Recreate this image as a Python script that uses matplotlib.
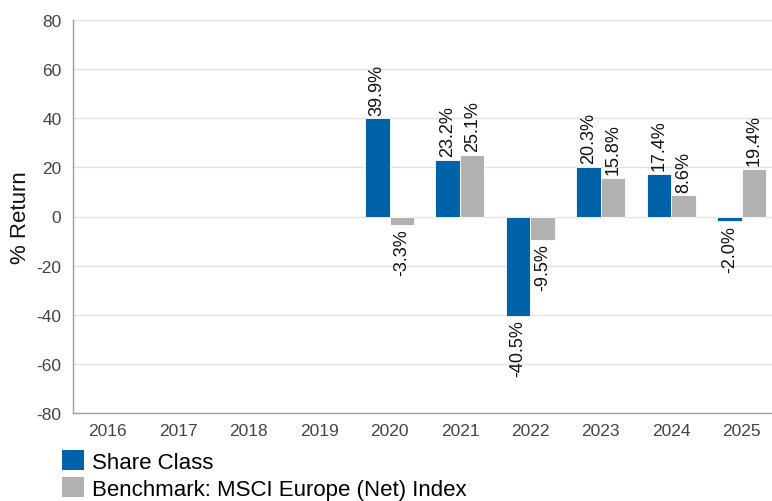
import matplotlib
matplotlib.use("Agg")
import matplotlib.pyplot as plt
from matplotlib.patches import Patch
import numpy as np

plt.rcParams['font.family'] = ['Liberation Sans', 'DejaVu Sans']
plt.rcParams['axes.unicode_minus'] = False

years = ["2016", "2017", "2018", "2019", "2020", "2021", "2022", "2023", "2024", "2025"]
share_class = [None, None, None, None, 39.9, 23.2, -40.5, 20.3, 17.4, -2.0]
benchmark = [None, None, None, None, -3.3, 25.1, -9.5, 15.8, 8.6, 19.4]
series_names = ["Share Class", "Benchmark: MSCI Europe (Net) Index"]
colors = ["#0062A8", "#B1B1B1"]

fig = plt.figure(figsize=(7.72, 5.02), dpi=100)
ax = fig.add_axes([72.5/772, (502-414)/502, (777-72.5)/772, (414-21)/502])

x = np.arange(len(years))
w = 0.348
for vals, off, col in [(share_class, -w/2, colors[0]), (benchmark, w/2, colors[1])]:
    for xi, v in zip(x, vals):
        if v is None:
            continue
        ax.bar(xi + off, v, width=w, color=col, edgecolor="white", linewidth=0.6, zorder=3)
        if v >= 0:
            ax.annotate(f"{v:.1f}%", (xi + off, v), xytext=(0, 2.5), textcoords="offset points",
                        rotation=90, ha="center", va="bottom", fontsize=13, color="#111111", zorder=4)
        else:
            ax.annotate(f"{v:.1f}%", (xi + off, v), xytext=(0, -2.5), textcoords="offset points",
                        rotation=90, ha="center", va="top", fontsize=13, color="#111111", zorder=4)

ax.set_xlim(-0.5, len(years) - 0.5)
ax.set_ylim(-80, 80)
ax.set_yticks(np.arange(-80, 81, 20))
ax.set_xticks(x)
ax.set_xticklabels(years)
ax.tick_params(axis="both", length=0, labelsize=12.5, colors="#444444")
ax.tick_params(axis="y", pad=8)
ax.tick_params(axis="x", pad=7)
ax.grid(axis="y", color="#E2E2E2", linewidth=1, zorder=0)
for s in ["top", "right"]:
    ax.spines[s].set_visible(False)
for s in ["left", "bottom"]:
    ax.spines[s].set_color("#A0A0A0")
    ax.spines[s].set_linewidth(1)
ax.spines["bottom"].set_zorder(5)
ax.set_ylabel("% Return", fontsize=16, color="#111111", labelpad=4)

handles = [Patch(facecolor=c, edgecolor="none") for c in colors]
fig.legend(handles, series_names, loc="upper left", bbox_to_anchor=(62/772, 1 - 451/502),
           frameon=False, fontsize=16, handlelength=1.0, handleheight=1.0,
           handletextpad=0.35, labelspacing=0.2, borderpad=0, borderaxespad=0)

fig.savefig("out.png", dpi=100)
